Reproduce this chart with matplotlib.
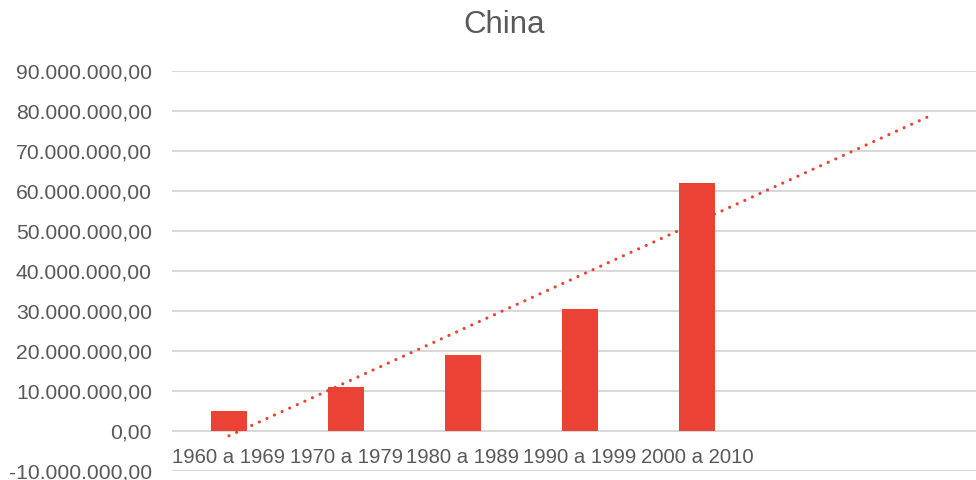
import matplotlib
matplotlib.use("Agg")
import matplotlib.pyplot as plt
import numpy as np
from matplotlib.ticker import FuncFormatter

categories = ["1960 a 1969", "1970 a 1979", "1980 a 1989", "1990 a 1999", "2000 a 2010"]
values = [5_000_000, 11_000_000, 19_000_000, 30_500_000, 62_000_000]
forecast_periods = 2

BAR_COLOR = "#EA4335"
TEXT_COLOR = "#595959"
GRID_COLOR = "#D9D9D9"

plt.rcParams["font.family"] = ["Liberation Sans", "DejaVu Sans"]


def br_number(v, _pos=None):
    s = f"{v:,.2f}"
    return s.replace(",", "X").replace(".", ",").replace("X", ".")


W, H = 976, 480
fig = plt.figure(figsize=(W / 100, H / 100), dpi=100)
ax = fig.add_axes([172 / W, 1 - 471 / H, (976 - 172) / W, 400 / H])

x = np.arange(len(categories))
ax.bar(x, values, width=0.31, color=BAR_COLOR, zorder=3)

# linear trendline, projected forward
coef = np.polyfit(x, values, 1)
xt = np.array([0, len(categories) - 1 + forecast_periods])
ax.plot(xt, np.polyval(coef, xt), linestyle=(0, (0.01, 2.6)), dash_capstyle="round",
        color=BAR_COLOR, linewidth=2.3, zorder=2)

slot_px = 117
left = -57 / slot_px
ax.set_xlim(left, left + (976 - 172) / slot_px)
ax.set_ylim(-10_000_000, 90_000_000)
ax.set_yticks(np.arange(-10_000_000, 90_000_001, 10_000_000))
ax.yaxis.set_major_formatter(FuncFormatter(br_number))
ax.set_xticks([])
ax.tick_params(axis="y", length=0, labelsize=15.2, labelcolor=TEXT_COLOR, pad=14.4)

ax.grid(axis="y", color=GRID_COLOR, linewidth=1.5, zorder=0)
for s in ax.spines.values():
    s.set_visible(False)

# category labels sit just below the zero line
for xi, c in zip(x, categories):
    ax.annotate(c, xy=(xi, H - 463), xycoords=("data", "figure pixels"),
                ha="center", va="baseline", fontsize=14.6, color=TEXT_COLOR)

fig.text(504.5 / W, 1 - 33 / H, "China", ha="center", va="baseline", fontsize=22.5, color=TEXT_COLOR)

fig.savefig("out.png", dpi=100)
